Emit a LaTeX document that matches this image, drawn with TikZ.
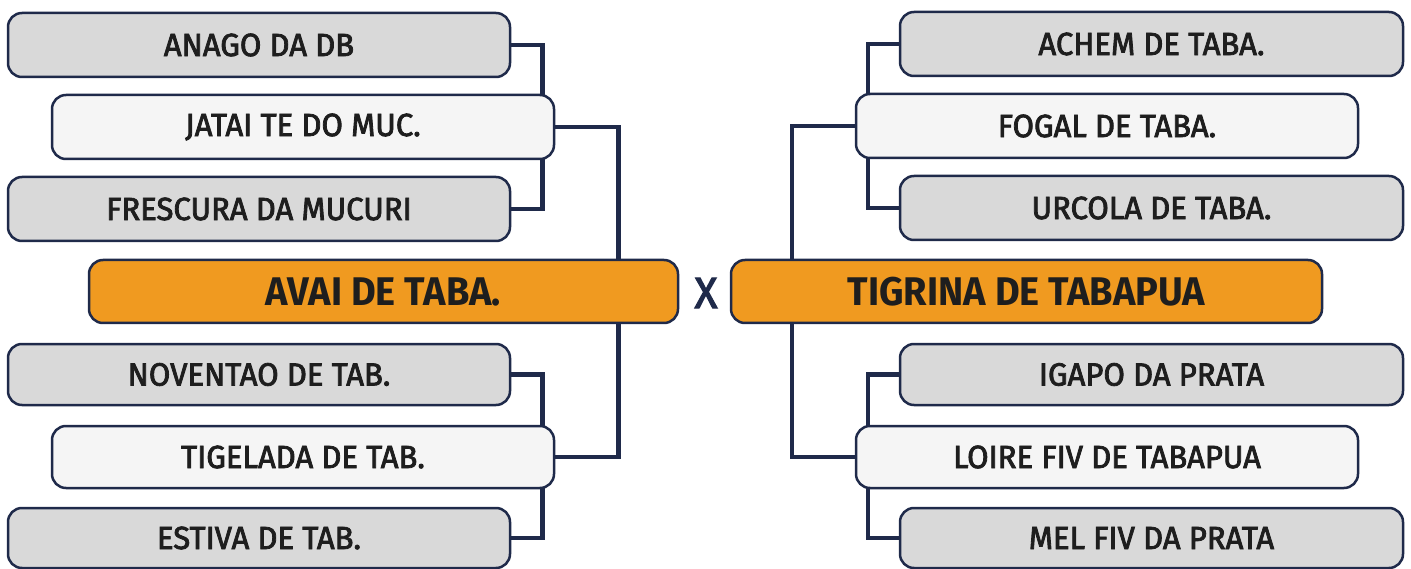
\documentclass[tikz,border=0pt]{standalone}
\usepackage{fontspec}
\setmainfont{Fira Sans}
\newfontfamily\medfont{Fira Sans}[FakeStretch=0.97,FakeBold=2.5]
\newfontfamily\boldfont{Fira Sans}[FakeStretch=0.95]
\usetikzlibrary{backgrounds}
\definecolor{navy}{HTML}{1F2A4A}
\definecolor{boxgrey}{HTML}{D9D9D9}
\definecolor{boxwhite}{HTML}{F5F5F5}
\definecolor{orng}{HTML}{F09A20}
\definecolor{txt}{HTML}{1E1E1E}
\tikzset{
  team/.style={draw=navy, line width=2.5pt, rounded corners=14pt, minimum width=502pt, minimum height=64pt, inner sep=0pt, text=txt, font=\medfont\fontsize{32}{32}\selectfont},
  greybox/.style={team, fill=boxgrey},
  whitebox/.style={team, fill=boxwhite},
  finalbox/.style={team, fill=orng, minimum height=63pt, font=\boldfont\bfseries\fontsize{40}{40}\selectfont},
  conn/.style={draw=navy, line width=4.5pt}
}
\begin{document}
\begin{tikzpicture}[x=1pt,y=-1pt]
\useasboundingbox (0,0) rectangle (1411,569);
% left
\node[greybox] (L1) at (259,45) {ANAGO DA DB};
\node[whitebox] (L2) at (303,127) {JATAI TE DO MUC.};
\node[greybox] (L3) at (259,209) {FRESCURA DA MUCURI};
\node[finalbox, minimum width=589pt] (LA) at (383.5,291.5) {AVAI DE TABA.};
\node[greybox, minimum height=61pt] (L4) at (259,374.5) {NOVENTAO DE TAB.};
\node[whitebox, minimum height=62pt] (L5) at (303,457) {TIGELADA DE TAB.};
\node[greybox, minimum height=60pt] (L6) at (259,538) {ESTIVA DE TAB.};
% right
\node[greybox, minimum width=503pt] (R1) at (1151.5,44) {ACHEM DE TABA.};
\node[whitebox] (R2) at (1107,126) {FOGAL DE TABA.};
\node[greybox, minimum width=503pt] (R3) at (1151.5,208) {URCOLA DE TABA.};
\node[finalbox, minimum width=591pt] (RA) at (1026.5,291.5) {TIGRINA DE TABAPUA};
\node[greybox, minimum width=503pt, minimum height=61pt] (R4) at (1151.5,374.5) {IGAPO DA PRATA};
\node[whitebox, minimum height=62pt] (R5) at (1107,457) {LOIRE FIV DE TABAPUA};
\node[greybox, minimum width=503pt, minimum height=60pt] (R6) at (1151.5,538) {MEL FIV DA PRATA};
% vs
\node[text=navy, font=\medfont\fontsize{44}{44}\selectfont] (vs) at (706,293) {X};
\begin{pgfonlayer}{background}
\draw[conn] (L1.east) -- ++(31,0) |- (L3.east);
\draw[conn] (L4.east) -- ++(31,0) |- (L6.east);
\draw[conn] (L2.east) -- ++(63,0) coordinate (jL1) -- (jL1 |- LA.north);
\draw[conn] (L5.east) -- ++(63,0) coordinate (jL2) -- (jL2 |- LA.south);
\draw[conn] (R1.west) -- ++(-31,0) |- (R3.west);
\draw[conn] (R4.west) -- ++(-31,0) |- (R6.west);
\draw[conn] (R2.west) -- ++(-63,0) coordinate (jR1) -- (jR1 |- RA.north);
\draw[conn] (R5.west) -- ++(-63,0) coordinate (jR2) -- (jR2 |- RA.south);
\end{pgfonlayer}
\end{tikzpicture}
\end{document}
